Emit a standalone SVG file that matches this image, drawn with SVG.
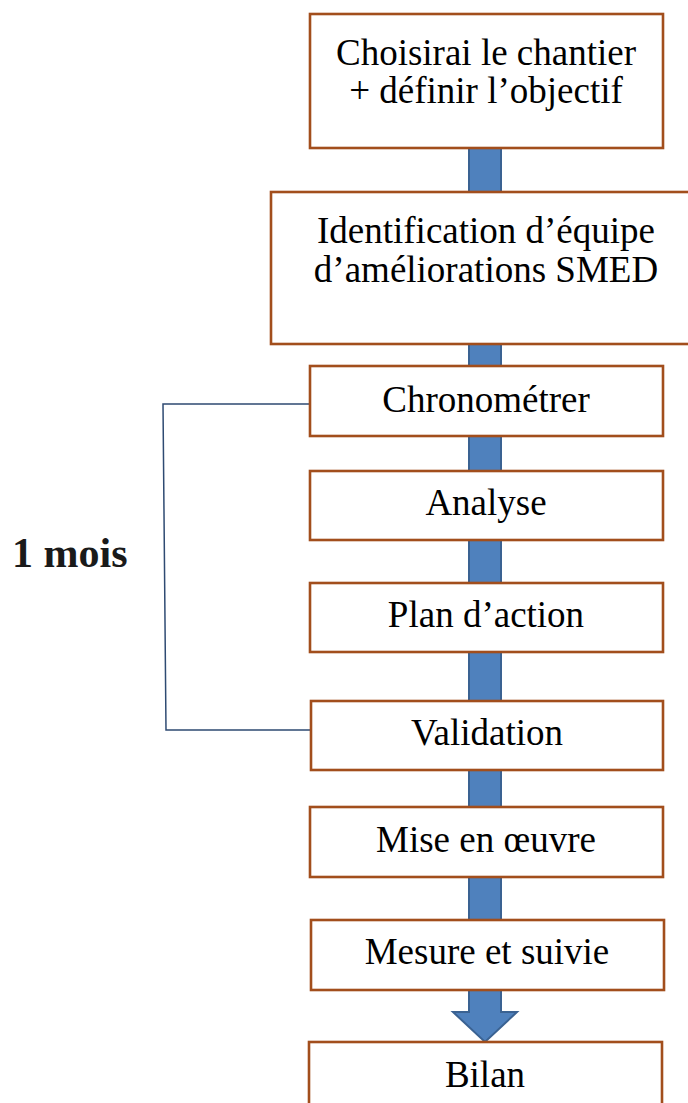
<svg xmlns="http://www.w3.org/2000/svg" width="688" height="1103" viewBox="0 0 688 1103">
  <style>
    .box { fill: #ffffff; stroke: #A24E1C; stroke-width: 2.6; }
    .lbl { font-family: "Liberation Serif", "Times New Roman", serif; font-size: 37px; fill: #000000; text-anchor: middle; }
    .big { font-family: "Liberation Serif", "Times New Roman", serif; font-size: 42px; font-weight: bold; fill: #1a1a1a; }
    .flow { fill: #4F81BD; stroke: #3A6292; stroke-width: 2; }
    .brace { fill: none; stroke: #2E4A72; stroke-width: 1.5; }
  </style>
  <rect width="688" height="1103" fill="#ffffff"/>

  <!-- flow arrow running behind the steps, plus the duration bracket -->
  <g id="connectors">
    <path class="flow" d="M469,148 L501,148 L501,1012 L517,1012 L485,1042 L453,1012 L469,1012 Z"/>
    <polyline class="brace" points="309,404 163,404 166,730 312,730"/>
  </g>

  <g id="step-choisir">
    <rect class="box" x="310" y="14" width="353" height="134"/>
    <text class="lbl" x="486" y="65">Choisirai le chantier</text>
    <text class="lbl" x="486" y="103">+ définir l’objectif</text>
  </g>

  <g id="step-equipe">
    <rect class="box" x="271" y="192" width="440" height="152"/>
    <text class="lbl" x="486" y="243">Identification d’équipe</text>
    <text class="lbl" x="486" y="282">d’améliorations SMED</text>
  </g>

  <g id="step-chrono">
    <rect class="box" x="310" y="366" width="353" height="70"/>
    <text class="lbl" x="486" y="412">Chronométrer</text>
  </g>

  <g id="step-analyse">
    <rect class="box" x="310" y="471" width="353" height="69"/>
    <text class="lbl" x="486" y="515">Analyse</text>
  </g>

  <g id="step-plan">
    <rect class="box" x="310" y="583" width="353" height="69"/>
    <text class="lbl" x="486" y="627">Plan d’action</text>
  </g>

  <g id="step-validation">
    <rect class="box" x="311" y="701" width="352" height="69"/>
    <text class="lbl" x="487" y="745">Validation</text>
  </g>

  <g id="step-mise">
    <rect class="box" x="310" y="807" width="353" height="70"/>
    <text class="lbl" x="486" y="852">Mise en œuvre</text>
  </g>

  <g id="step-mesure">
    <rect class="box" x="311" y="920" width="353" height="70"/>
    <text class="lbl" x="487" y="964">Mesure et suivie</text>
  </g>

  <g id="step-bilan">
    <rect class="box" x="309" y="1042" width="353" height="80"/>
    <text class="lbl" x="485" y="1087">Bilan</text>
  </g>

  <g id="duree">
    <text class="big" x="12" y="567">1 mois</text>
  </g>
</svg>
